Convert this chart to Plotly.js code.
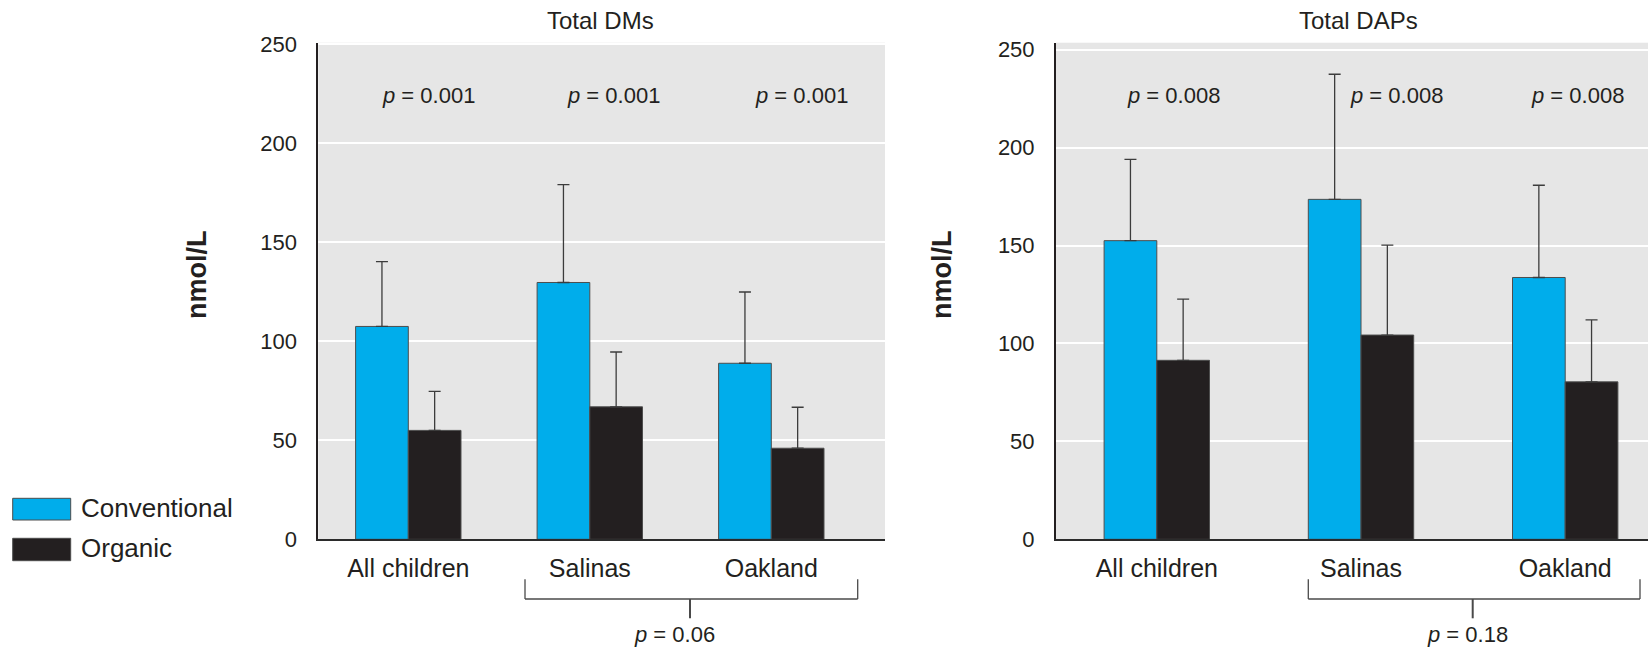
<!DOCTYPE html>
<html>
<head>
<meta charset="utf-8">
<script src="https://cdn.plot.ly/plotly-3.0.1.min.js"></script>
<style>
  html, body { margin: 0; padding: 0; background: #fff; }
  #chart { width: 1648px; height: 650px; }
</style>
</head>
<body>
<div id="chart"></div>
<script>
// ---------- data ----------
const categories = ["All children", "Salinas", "Oakland"];
const seriesNames = ["Conventional", "Organic"];
const panelTitles = ["Total DMs", "Total DAPs"];
const yTitle = "nmol/L";
const yTickVals = [0, 50, 100, 150, 200, 250];

// Total DMs (nmol/L): means and upper error lengths
const dmConventional = [107.5, 129.7, 88.9];
const dmConventionalErr = [32.7, 49.4, 36.0];
const dmOrganic = [55.0, 66.9, 46.0];
const dmOrganicErr = [19.7, 27.7, 20.7];

// Total DAPs (nmol/L)
const dapConventional = [152.5, 173.6, 133.7];
const dapConventionalErr = [41.5, 63.9, 47.1];
const dapOrganic = [91.4, 104.3, 80.4];
const dapOrganicErr = [31.3, 45.9, 31.7];

// p-values
const dmPairP = ["0.001", "0.001", "0.001"];
const dapPairP = ["0.008", "0.008", "0.008"];
const dmSiteP = "0.06";
const dapSiteP = "0.18";

// ---------- style ----------
const W = 1648, H = 650;
const COL_CONV = "#00ADEB";
const COL_ORG = "#231F20";
const FONT = "'Liberation Sans', Arial, sans-serif";
const BOLD = "'Liberation Sans', Arial, sans-serif";
const TXT = "#231F20";

const px = x => x / W;
const py = y => 1 - y / H;

const yTop = 42.7, yBot = 539.3;
const left = { x0: 318.3, x1: 885, spacing: 181.5, c0: 408.3, ymax: 250.8 };
const right = { x0: 1056, x1: 1648, spacing: 204.2, c0: 1156.8, ymax: 253.6 };
const barPx = 52.7;

function barTrace(vals, errs, name, color, xa, ya, w, off) {
  return {
    type: "bar",
    x: categories,
    y: vals,
    name: name,
    xaxis: xa, yaxis: ya,
    width: w, offset: off,
    marker: { color: color, line: { color: "#4d4d4d", width: 1 } },
    error_y: {
      type: "data", symmetric: false,
      array: errs, arrayminus: errs.map(() => 0),
      color: "#3c3c3c", thickness: 1.3, width: 6
    },
    showlegend: false,
    hoverinfo: "y"
  };
}

const wL = barPx / left.spacing, wR = barPx / right.spacing;
const data = [
  barTrace(dmConventional, dmConventionalErr, seriesNames[0], COL_CONV, "x", "y", wL, -wL),
  barTrace(dmOrganic, dmOrganicErr, seriesNames[1], COL_ORG, "x", "y", wL, 0),
  barTrace(dapConventional, dapConventionalErr, seriesNames[0], COL_CONV, "x2", "y2", wR, -wR),
  barTrace(dapOrganic, dapOrganicErr, seriesNames[1], COL_ORG, "x2", "y2", wR, 0)
];

function xAxis(p, anchor) {
  return {
    domain: [px(p.x0), px(p.x1)],
    anchor: anchor,
    type: "category",
    range: [(p.x0 - p.c0) / p.spacing, (p.x1 - p.c0) / p.spacing],
    showline: true, linecolor: "#2b2b2b", linewidth: 2,
    showgrid: false, zeroline: false,
    ticks: "", ticklabelstandoff: 6,
    tickfont: { family: FONT, size: 25, color: TXT },
    fixedrange: true
  };
}
function yAxis(p, anchor) {
  return {
    domain: [py(yBot), py(yTop)],
    anchor: anchor,
    range: [0, p.ymax],
    tickvals: yTickVals,
    showline: true, linecolor: TXT, linewidth: 2,
    showgrid: true, gridcolor: "#ffffff", gridwidth: 2,
    zeroline: false,
    ticks: "", ticklabelstandoff: 15,
    tickfont: { family: FONT, size: 22, color: TXT },
    fixedrange: true
  };
}

const annotations = [];
function ann(text, x, y, size, opts) {
  annotations.push(Object.assign({
    text: text, xref: "paper", yref: "paper",
    x: px(x), y: py(y), xanchor: "center", yanchor: "middle",
    showarrow: false,
    font: { family: FONT, size: size, color: TXT }
  }, opts || {}));
}
ann(panelTitles[0], 600, 20, 24);
ann(panelTitles[1], 1358, 20, 24);
const pTxt = v => "<i>p</i> = " + v;
[428, 613.5, 801.5].forEach((x, i) => ann(pTxt(dmPairP[i]), x, 96, 22));
[1173, 1396, 1577].forEach((x, i) => ann(pTxt(dapPairP[i]), x, 96, 22));
ann(pTxt(dmSiteP), 674, 634, 22);
ann(pTxt(dapSiteP), 1467, 634, 22);
ann("<b>" + yTitle + "</b>", 197, 275, 27, { textangle: -90, font: { family: BOLD, size: 27, color: TXT } });
ann("<b>" + yTitle + "</b>", 942, 275, 27, { textangle: -90, font: { family: BOLD, size: 27, color: TXT } });
ann(seriesNames[0], 79, 508, 26, { xanchor: "left" });
ann(seriesNames[1], 79, 548, 26, { xanchor: "left" });

const shapes = [];
function line(x0, y0, x1, y1, w) {
  shapes.push({ type: "line", xref: "paper", yref: "paper",
    x0: px(x0), y0: py(y0), x1: px(x1), y1: py(y1),
    line: { color: "#4a4a4a", width: w } });
}
function bracket(xl, xr, xm) {
  line(xl, 579.3, xl, 599, 1.3);
  line(xr, 579.3, xr, 599, 1.3);
  line(xl, 599, xr, 599, 1.3);
  line(xm, 599, xm, 618.3, 2);
}
bracket(525, 857.7, 690);
bracket(1308.3, 1640, 1472.7);
function box(x0, y0, x1, y1, color) {
  shapes.push({ type: "rect", xref: "paper", yref: "paper",
    x0: px(x0), y0: py(y1), x1: px(x1), y1: py(y0),
    fillcolor: color, line: { color: "#4d4d4d", width: 1 } });
}
box(12.7, 498.3, 70.7, 520, COL_CONV);
box(12.7, 538.3, 70.7, 560.7, COL_ORG);

const layout = {
  width: W, height: H,
  margin: { l: 0, r: 0, t: 0, b: 0 },
  paper_bgcolor: "#ffffff",
  plot_bgcolor: "#E6E6E6",
  showlegend: false,
  xaxis: xAxis(left, "y"),
  yaxis: yAxis(left, "x"),
  xaxis2: xAxis(right, "y2"),
  yaxis2: yAxis(right, "x2"),
  annotations: annotations,
  shapes: shapes
};

Plotly.newPlot("chart", data, layout, { displayModeBar: false, staticPlot: true });
</script>
</body>
</html>
